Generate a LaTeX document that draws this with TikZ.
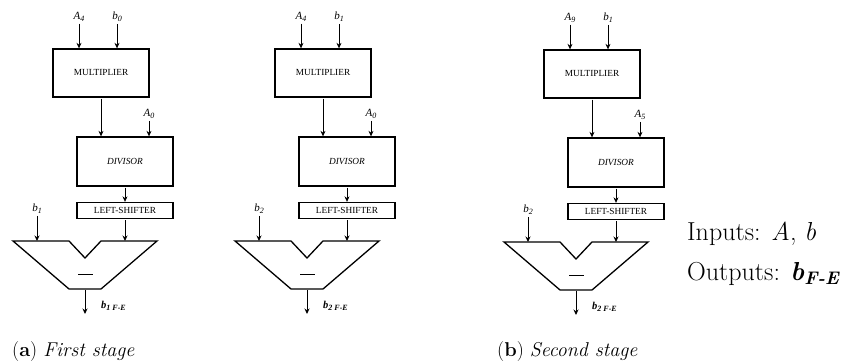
\documentclass[tikz,border=0pt]{standalone}
\usepackage{fontspec}
\newfontfamily\tnr{Liberation Serif}
\usetikzlibrary{arrows.meta}

\newcommand\lsub[1]{\raisebox{-0.35ex}{\fontsize{8}{9}\selectfont #1}}

\tikzset{
  blk/.style={draw, line width=1.3pt, inner sep=0pt, font=\tnr\fontsize{9.3}{11}\selectfont},
  arr/.style={-{Stealth[length=5.5pt,width=5pt]}, line width=0.8pt, shorten <=1pt},
  lbl/.style={font=\tnr\itshape\fontsize{11}{12}\selectfont, inner sep=1pt},
  outlbl/.style={font=\tnr\bfseries\itshape\fontsize{10.5}{12}\selectfont, inner sep=0pt, anchor=west},
  subtr/.style={draw, line width=1.3pt, line join=miter},
  minus/.style={line width=0.8pt},
  capt/.style={font=\fontsize{20}{24}\selectfont, anchor=base west, inner sep=0pt},
  side/.style={font=\fontsize{26}{30}\selectfont, anchor=base west, inner sep=0pt},
}

% #1 prefix, #2 x offset, #3 A label, #4 b label, #5 divisor A label, #6 left b label, #7 output label
\newcommand\mystage[7]{%
\begin{scope}[xshift=#2pt]
  \node[blk, minimum width=96pt, minimum height=48pt] (#1m) at (101,73) {MULTIPLIER};
  \node[blk, minimum width=96pt, minimum height=49pt] (#1d) at (125,161.5) {\itshape DIVISOR};
  \node[blk, minimum width=96pt, minimum height=16pt] (#1l) at (125,210.5) {LEFT-SHIFTER};
  % input labels
  \node[lbl] (#1ta) at (79,17) {#3};
  \node[lbl] (#1tb) at (117,17) {#4};
  \node[lbl] (#1tc) at (149,114) {#5};
  \node[lbl] (#1td) at (37,209) {#6};
  % subtractor
  \coordinate (#1top) at (0,241);
  \coordinate (#1bot) at (85,289);
  \coordinate (#1out) at (85,314);
  \path[subtr] (13,241) -- (69,241) -- (85,258) -- (101,241) -- (157,241)
     -- (101,289) -- (69,289) -- cycle;
  \draw[minus] (78,274) -- (93,274);
  % connectors
  \draw[arr] (#1ta) -- (#1ta |- #1m.north);
  \draw[arr] (#1tb) -- (#1tb |- #1m.north);
  \draw[arr] (#1m.south) -- (#1m.south |- #1d.north);
  \draw[arr] (#1tc) -- (#1tc |- #1d.north);
  \draw[arr] (#1d.south) -- (#1l.north);
  \draw[arr] (#1td) -- (#1td |- #1top);
  \draw[arr] (#1l.south) -- (#1l.south |- #1top);
  \draw[arr] (#1bot) -- (#1out);
  \node[outlbl] (#1to) at (101,306) {#7};
\end{scope}}

\begin{document}
\begin{tikzpicture}[x=1pt,y=-1pt]
  \useasboundingbox (0,0) rectangle (846,363);
  \mystage{s1}{0}{A\lsub{4}}{b\lsub{0}}{A\lsub{0}}{b\lsub{1}}{b\lsub{1 F-E}}
  \mystage{s2}{222}{A\lsub{4}}{b\lsub{1}}{A\lsub{0}}{b\lsub{2}}{b\lsub{2 F-E}}
  \begin{scope}[yshift=-1pt]
  \mystage{s3}{491}{A\lsub{9}}{b\lsub{1}}{A\lsub{5}}{b\lsub{2}}{b\lsub{2 F-E}}
  \end{scope}
  \node[capt] (capa) at (12,356) {(\textbf{a}) \textit{First stage}};
  \node[capt] (capb) at (497,356) {(\textbf{b}) \textit{Second stage}};
  \node[side] (inp) at (687,241) {Inputs: \textit{A}, \textit{b}};
  \node[side] (outp) at (687,281) {Outputs: \textbf{\textit{b}}\textsubscript{\textbf{\textit{F-E}}}};
\end{tikzpicture}
\end{document}
